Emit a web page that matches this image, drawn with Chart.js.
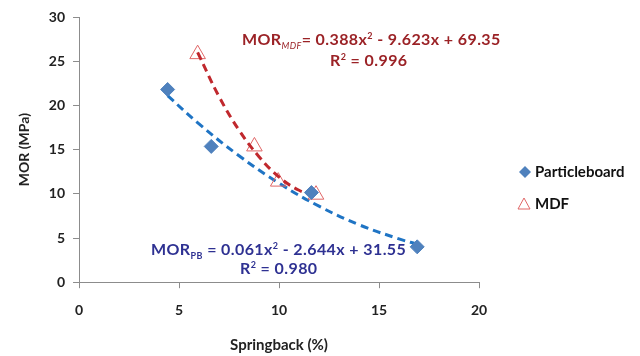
<!DOCTYPE html>
<html>
<head>
<meta charset="utf-8">
<script src="https://cdn.jsdelivr.net/npm/chart.js@4/dist/chart.umd.min.js"></script>
<style>
  html,body{margin:0;padding:0;background:#fff;}
  #wrap{position:relative;width:640px;height:356px;font-family:Lato,"Open Sans",sans-serif;font-weight:bold;}
  canvas{position:absolute;left:0;top:0;}
  .eq{position:absolute;white-space:nowrap;}
  .mdf{color:#9B2226;font-size:16px;letter-spacing:0.4px;}
  .pb{color:#2E3192;font-size:16px;letter-spacing:0.4px;}
  .leg{position:absolute;font-size:15px;color:#111;white-space:nowrap;}
  sub,sup{font-size:9px;}
</style>
</head>
<body>
<div id="wrap">
<canvas id="c" width="640" height="356"></canvas>
<div class="eq mdf" style="left:242px;top:29px;">MOR<sub style="font-style:italic;font-weight:normal;">MDF</sub>= 0.388x<sup>2</sup> - 9.623x + 69.35</div>
<div class="eq mdf" style="left:330px;top:50px;">R<sup>2</sup> = 0.996</div>
<div class="eq pb" style="left:151px;top:239px;">MOR<sub>PB</sub> = 0.061x<sup>2</sup> - 2.644x + 31.55</div>
<div class="eq pb" style="left:240px;top:258px;">R<sup>2</sup> = 0.980</div>
<div class="leg" style="left:535px;top:162px;">Particleboard</div>
<div class="leg" style="left:535px;top:194px;">MDF</div>
</div>
<script>
// Measured data
const pbX = [4.43, 6.61, 11.62, 16.91];
const pbY = [21.8, 15.36, 10.14, 4.0];
const mdfX = [5.93, 8.77, 9.96, 11.85];
const mdfY = [25.8, 15.36, 11.38, 9.9];
// Trendline points
const pbTrendX = [4.43, 6, 8, 10, 12, 14, 16, 16.91];
const pbTrendY = [21.1, 17.9, 14.3, 11.2, 8.6, 6.5, 4.9, 4.3];
const mdfTrendX = [5.93, 7, 8, 9, 10, 11, 11.85];
const mdfTrendY = [26.0, 21.0, 17.2, 14.2, 11.9, 10.4, 9.8];
const xTicks = [0, 5, 10, 15, 20];
const yTicks = [0, 5, 10, 15, 20, 25, 30];
const legendLabels = ["Particleboard", "MDF"];

const pts = (xs, ys) => xs.map((x, i) => ({x, y: ys[i]}));
const axisGrey = '#8c8c8c';
const tickFont = {family: 'Lato', size: 14, weight: 'bold'};

const legendMarkers = {
  id: 'legendMarkers',
  afterDraw(chart) {
    const ctx = chart.ctx;
    ctx.save();
    ctx.fillStyle = '#4F81BD';
    ctx.beginPath();
    ctx.moveTo(525, 166); ctx.lineTo(531, 172); ctx.lineTo(525, 178); ctx.lineTo(519, 172); ctx.closePath();
    ctx.fill();
    ctx.strokeStyle = '#E06666';
    ctx.lineWidth = 1;
    ctx.beginPath();
    ctx.moveTo(524, 198); ctx.lineTo(530, 209); ctx.lineTo(518, 209); ctx.closePath();
    ctx.stroke();
    ctx.restore();
  }
};

new Chart(document.getElementById('c'), {
  type: 'scatter',
  data: {
    datasets: [
      {label: legendLabels[0], data: pts(pbX, pbY), pointStyle: 'rectRot', pointRadius: 7, backgroundColor: '#4F81BD', borderColor: '#4F81BD', borderWidth: 1},
      {label: 'MDF trend', data: pts(mdfTrendX, mdfTrendY), showLine: true, pointRadius: 0, borderColor: '#C0282D', borderWidth: 3, borderDash: [8, 5], tension: 0.4},
      {label: legendLabels[1], data: pts(mdfX, mdfY), pointStyle: 'triangle', pointRadius: 9, backgroundColor: 'rgba(255,255,255,0)', borderColor: '#E06666', borderWidth: 1},
      {label: 'PB trend', data: pts(pbTrendX, pbTrendY), showLine: true, pointRadius: 0, borderColor: '#1F74C4', borderWidth: 3, borderDash: [8, 5], tension: 0.4}
    ]
  },
  options: {
    responsive: false,
    animation: false,
    layout: {padding: {left: 12, right: 161, top: 17, bottom: 0}},
    plugins: {legend: {display: false}, tooltip: {enabled: false}},
    scales: {
      x: {
        min: 0, max: 20,
        afterBuildTicks: a => { a.ticks = xTicks.map(v => ({value: v})); },
        ticks: {font: tickFont, color: '#222', padding: 14},
        grid: {drawOnChartArea: false, color: axisGrey, tickLength: 6},
        border: {color: axisGrey},
        title: {display: true, text: 'Springback (%)', font: {family: 'Lato', size: 15, weight: 'bold'}, color: '#222', padding: {top: 3, bottom: 2}}
      },
      y: {
        min: 0, max: 30,
        afterBuildTicks: a => { a.ticks = yTicks.map(v => ({value: v})); },
        ticks: {font: tickFont, color: '#222', padding: 8},
        grid: {drawOnChartArea: false, color: axisGrey, tickLength: 6},
        border: {color: axisGrey},
        title: {display: true, text: 'MOR (MPa)', font: {family: 'Lato', size: 14, weight: 'bold'}, color: '#222', padding: {bottom: 8}}
      }
    }
  },
  plugins: [legendMarkers]
});
</script>
</body>
</html>
